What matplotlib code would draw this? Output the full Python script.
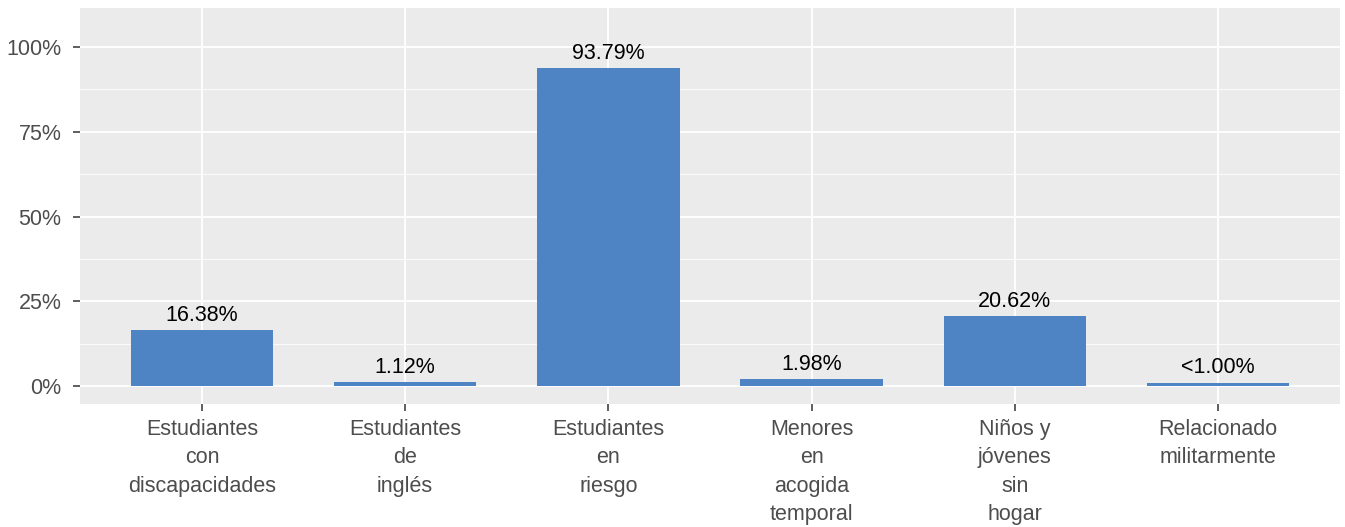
import matplotlib
matplotlib.use("Agg")
import matplotlib.pyplot as plt
from matplotlib.ticker import FixedLocator

plt.rcParams['font.family'] = ['Liberation Sans', 'DejaVu Sans']

categorias = ["Estudiantes\ncon\ndiscapacidades", "Estudiantes\nde\ninglés",
              "Estudiantes\nen\nriesgo", "Menores\nen\nacogida\ntemporal",
              "Niños y\njóvenes\nsin\nhogar", "Relacionado\nmilitarmente"]
valores = [16.38, 1.12, 93.79, 1.98, 20.62, 1.0]
etiquetas = ["16.38%", "1.12%", "93.79%", "1.98%", "20.62%", "<1.00%"]
yticks = [0, 25, 50, 75, 100]
ytick_labels = ["0%", "25%", "50%", "75%", "100%"]

W, H = 1345, 527
fig = plt.figure(figsize=(W / 100, H / 100), dpi=100)
ax = fig.add_axes([80 / W, (H - 404) / H, 1260 / W, 396 / H])
ax.set_facecolor("#EBEBEB")

x = list(range(1, len(categorias) + 1))
ax.bar(x, valores, width=0.7, color="#4F84C4", zorder=3)
for xi, v, lab in zip(x, valores, etiquetas):
    ax.annotate(lab, (xi, v), xytext=(0, 3), textcoords="offset points",
                ha="center", va="bottom", fontsize=15.5, color="black", zorder=4)

ax.set_xlim(0.4, 6.6)
ax.set_ylim(-5.3, 111.5)
ax.set_xticks(x)
ax.set_xticklabels(categorias, fontsize=15.5, color="#4D4D4D", linespacing=1.45)
ax.set_yticks(yticks)
ax.set_yticklabels(ytick_labels, fontsize=15.5, color="#4D4D4D")
ax.yaxis.set_minor_locator(FixedLocator([12.5, 37.5, 62.5, 87.5]))
ax.tick_params(axis="both", which="major", length=5, width=1.1, color="#333333")
ax.tick_params(axis="x", which="major", pad=6)
ax.tick_params(axis="y", which="major", pad=8.5)
ax.tick_params(axis="y", which="minor", length=0)
ax.grid(True, which="major", color="white", linewidth=1.3, zorder=0)
ax.grid(True, which="minor", axis="y", color="white", linewidth=0.6, zorder=0)
ax.set_axisbelow(True)
for s in ax.spines.values():
    s.set_visible(False)

fig.savefig("out.png", dpi=100)
